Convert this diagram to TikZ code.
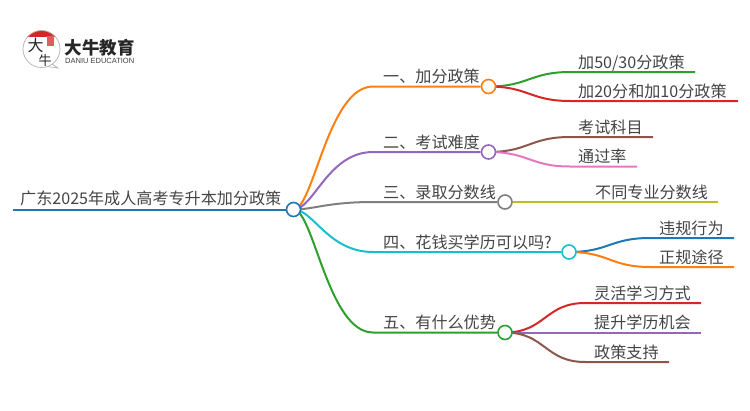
\documentclass[tikz,border=0pt]{standalone}
\usepackage{fontspec}
\setmainfont{Liberation Sans}
\newfontfamily\cjk{Noto Sans CJK SC}
\usetikzlibrary{backgrounds}
\definecolor{tblue}{HTML}{1F77B4}
\definecolor{torange}{HTML}{FF7F0E}
\definecolor{tgreen}{HTML}{2CA02C}
\definecolor{tred}{HTML}{D62728}
\definecolor{tpurple}{HTML}{9467BD}
\definecolor{tbrown}{HTML}{8C564B}
\definecolor{tpink}{HTML}{E377C2}
\definecolor{tgray}{HTML}{7F7F7F}
\definecolor{tolive}{HTML}{BCBD22}
\definecolor{tcyan}{HTML}{17BECF}
\definecolor{textgray}{HTML}{444444}
\tikzset{
  hub/.style={circle,draw,fill=white,line width=1.6pt,minimum size=14pt,inner sep=0pt},
  label/.style={anchor=base west,inner sep=0pt,text=textgray,font=\cjk\fontsize{16.1}{16.1}\selectfont},
  edge/.style={line width=2pt},
}
\begin{document}
\begin{tikzpicture}[x=1pt,y=-1pt]
  \useasboundingbox (0,0) rectangle (750,410);
  % logo
  \begin{scope}
    \clip (41.5,49) circle (18.5);
    \fill[tred] (20,28) rectangle (62,37);
  \end{scope}
  \draw[gray!60,line width=.7pt] (41.5,49) circle (18.5);
  \draw[gray!60,line width=.7pt] (52,64) -- (58,68) -- (47,66.5);
  \fill[tred!75] (46.5,36) rectangle (54,46);
  \node[inner sep=0pt,text=black!85,font=\cjk\fontsize{16}{16}\selectfont] (logoa) at (35.5,45.5) {大};
  \node[inner sep=0pt,text=black!85,font=\cjk\fontsize{13}{13}\selectfont] (logob) at (45,60.2) {牛};
  \node[anchor=base west,inner sep=0pt,text=black!85,font=\cjk\bfseries\fontsize{17.5}{17.5}\selectfont] (logoc) at (64.5,54.5) {大牛教育};
  \node[anchor=base west,inner sep=0pt,text=black!75,font=\fontsize{7.5}{7.5}\selectfont] (logod) at (65,63.5) {DANIU EDUCATION};
  % root and main branches
  \node[hub,draw=tblue] (root) at (293.5,209.5) {};
  \node[hub,draw=torange] (hubone) at (488.5,86.5) {};
  \node[hub,draw=tpurple] (hubtwo) at (488.5,152) {};
  \node[hub,draw=tgray] (hubthree) at (505,202) {};
  \node[hub,draw=tcyan] (hubfour) at (569,252) {};
  \node[hub,draw=tgreen] (hubfive) at (505,332.5) {};
  \coordinate (start) at (13,209.5);
  \coordinate (bendone) at (373,86.5);
  \coordinate (bendtwo) at (373,152);
  \coordinate (bendthree) at (373,202);
  \coordinate (bendfour) at (373,252);
  \coordinate (bendfive) at (373,332.5);
  % leaf ends
  \coordinate (bendaa) at (570,72);
  \coordinate (endaa) at (695,72);
  \coordinate (bendab) at (570,101);
  \coordinate (endab) at (738,101);
  \coordinate (bendba) at (570,137);
  \coordinate (endba) at (653,137);
  \coordinate (bendbb) at (570,166.5);
  \coordinate (endbb) at (637,166.5);
  \coordinate (endca) at (718,202);
  \coordinate (bendda) at (650,238);
  \coordinate (endda) at (734,238);
  \coordinate (benddb) at (650,267);
  \coordinate (enddb) at (734,267);
  \coordinate (bendea) at (585,303);
  \coordinate (endea) at (701,303);
  \coordinate (endeb) at (701,332.5);
  \coordinate (bendec) at (585,362);
  \coordinate (endec) at (669,362);
  \begin{scope}[on background layer]
    \draw[edge,tblue] (start) -- (root);
    \draw[edge,torange] (root.center) .. controls +(20,0) and +(-45,0) .. (bendone) -- (hubone);
    \draw[edge,tpurple] (root.center) .. controls +(20,0) and +(-45,0) .. (bendtwo) -- (hubtwo);
    \draw[edge,tgray] (root.center) .. controls +(20,0) and +(-45,0) .. (bendthree) -- (hubthree);
    \draw[edge,tcyan] (root.center) .. controls +(20,0) and +(-45,0) .. (bendfour) -- (hubfour);
    \draw[edge,tgreen] (root.center) .. controls +(20,0) and +(-45,0) .. (bendfive) -- (hubfive);
    \draw[edge,tgreen] (hubone.center) .. controls +(40,0) and +(-40,0) .. (bendaa) -- (endaa);
    \draw[edge,tred] (hubone.center) .. controls +(40,0) and +(-40,0) .. (bendab) -- (endab);
    \draw[edge,tbrown] (hubtwo.center) .. controls +(40,0) and +(-40,0) .. (bendba) -- (endba);
    \draw[edge,tpink] (hubtwo.center) .. controls +(40,0) and +(-40,0) .. (bendbb) -- (endbb);
    \draw[edge,tolive] (hubthree) -- (endca);
    \draw[edge,tblue] (hubfour.center) .. controls +(40,0) and +(-40,0) .. (bendda) -- (endda);
    \draw[edge,torange] (hubfour.center) .. controls +(40,0) and +(-40,0) .. (benddb) -- (enddb);
    \draw[edge,tred] (hubfive.center) .. controls +(40,0) and +(-40,0) .. (bendea) -- (endea);
    \draw[edge,tpurple] (hubfive) -- (endeb);
    \draw[edge,tbrown] (hubfive.center) .. controls +(40,0) and +(-40,0) .. (bendec) -- (endec);
  \end{scope}
  % labels
  \node[label] (title) at (20,204.5) {广东2025年成人高考专升本加分政策};
  \node[label] (one) at (383,82.5) {一、加分政策};
  \node[label] (two) at (383,148) {二、考试难度};
  \node[label] (three) at (383,198) {三、录取分数线};
  \node[label] (four) at (383,248) {四、花钱买学历可以吗?};
  \node[label] (five) at (383,328.5) {五、有什么优势};
  \node[label] (aa) at (578,68) {加50/30分政策};
  \node[label] (ab) at (578,97) {加20分和加10分政策};
  \node[label] (ba) at (578,133) {考试科目};
  \node[label] (bb) at (578,162.5) {通过率};
  \node[label] (ca) at (595,198) {不同专业分数线};
  \node[label] (da) at (659,234) {违规行为};
  \node[label] (db) at (659,263) {正规途径};
  \node[label] (ea) at (594,299) {灵活学习方式};
  \node[label] (eb) at (594,328.5) {提升学历机会};
  \node[label] (ec) at (594,358) {政策支持};
\end{tikzpicture}
\end{document}
